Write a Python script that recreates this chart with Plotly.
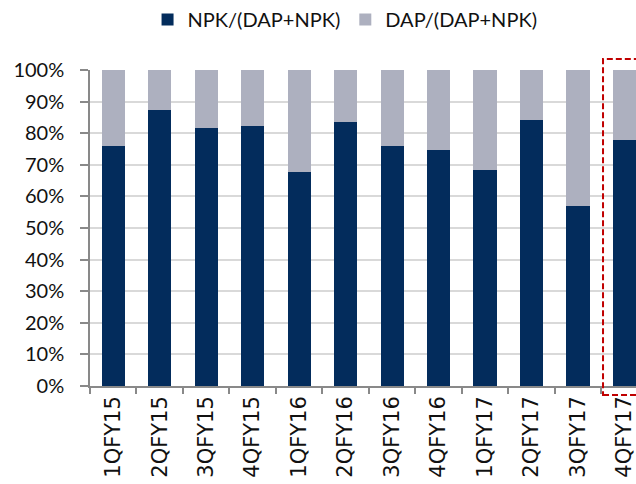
import plotly.graph_objects as go

categories = ["1QFY15", "2QFY15", "3QFY15", "4QFY15", "1QFY16", "2QFY16",
              "3QFY16", "4QFY16", "1QFY17", "2QFY17", "3QFY17", "4QFY17"]
npk_share = [0.76, 0.873, 0.816, 0.823, 0.677, 0.835,
             0.759, 0.747, 0.684, 0.842, 0.571, 0.778]
dap_share = [1 - v for v in npk_share]
y_ticks = [i / 10 for i in range(11)]

NAVY = "#032C5C"
GRAY = "#ADB0BF"

fig = go.Figure()
fig.add_trace(go.Bar(x=categories, y=npk_share, name="NPK/(DAP+NPK)",
                     marker=dict(color=NAVY, line=dict(width=0)), width=0.5))
fig.add_trace(go.Bar(x=categories, y=dap_share, name="DAP/(DAP+NPK)",
                     marker=dict(color=GRAY, line=dict(width=0)), width=0.5))

fig.update_layout(
    width=636, height=484,
    barmode="stack",
    paper_bgcolor="white", plot_bgcolor="white",
    margin=dict(l=90, r=0, t=70, b=98, autoexpand=False),
    font=dict(family="Lato", size=20, color="#111111"),
    legend=dict(orientation="h", xref="container", yref="container",
                x=0.232, xanchor="left", y=1.0, yanchor="top",
                traceorder="normal",
                font=dict(family="Lato", size=20, color="#111111"),
                itemclick=False),
    xaxis=dict(type="category", range=[-0.5, 11.247], automargin=False,
               tickangle=-90, ticks="outside", tickson="boundaries",
               ticklen=6, tickcolor="#898989", tickwidth=1.5,
               showline=True, linecolor="#898989", linewidth=1.5,
               showgrid=False,
               tickfont=dict(family="DejaVu Sans", size=21, color="#111111")),
    yaxis=dict(range=[0, 1], tickvals=y_ticks, tickformat=".0%", automargin=False,
               ticks="outside", ticklen=8, tickcolor="#898989", tickwidth=1.5,
               showline=True, linecolor="#898989", linewidth=1.5,
               showgrid=True, gridcolor="#D9D9D9", gridwidth=1.5,
               zeroline=False, ticklabelstandoff=12,
               tickfont=dict(family="Lato", size=20, color="#111111")),
)

# dashed highlight box around the last quarter
fig.add_shape(type="rect", xref="paper", yref="paper",
              x0=0.9396, x1=1.02, y0=-0.0285, y1=1.0348,
              line=dict(color="#C00000", width=2, dash="6px,3px"),
              fillcolor="rgba(0,0,0,0)", layer="above")

fig.write_html("out.html",
               config={"displayModeBar": False},
               post_script="document.body.style.margin='0';document.body.style.overflow='hidden';")
